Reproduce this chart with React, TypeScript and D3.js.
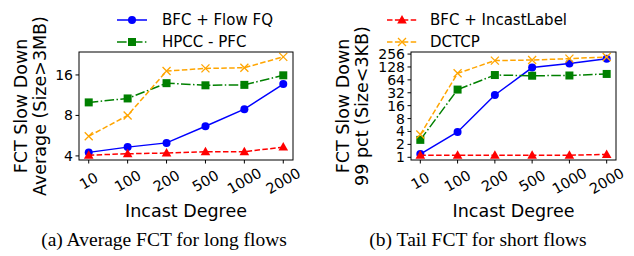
import React from "react";
import * as d3 from "d3";

const W = 634;
const H = 256;

const degrees = ["10", "100", "200", "500", "1000", "2000"];

// (a) average FCT, long flows
const avgFlowFQ = [4.25, 4.65, 5.0, 6.65, 8.9, 13.7];
const avgHPCC = [10.0, 10.7, 13.9, 13.4, 13.5, 15.9];
const avgIncast = [4.05, 4.15, 4.2, 4.3, 4.3, 4.65];
const avgDCTCP = [5.6, 8.0, 17.1, 17.9, 18.1, 21.8];

// (b) tail FCT, short flows
const tailFlowFQ = [1.19, 3.9, 28.4, 124, 154, 198];
const tailHPCC = [2.55, 38, 83, 80, 81, 88];
const tailIncast = [1.12, 1.12, 1.12, 1.12, 1.12, 1.17];
const tailDCTCP = [3.4, 91, 180, 186, 200, 219];

const leftTicks = [4, 8, 16];
const rightTicks = [1, 2, 4, 8, 16, 32, 64, 128, 256];

const sans = "DejaVu Sans, sans-serif";

type Series = { name: string; color: string; dash: string; marker: string; values: number[] };

function Marker({ type, x, y, color }: { type: string; x: number; y: number; color: string }) {
  if (type === "circle") return <circle cx={x} cy={y} r={4} fill={color} />;
  if (type === "square") return <rect x={x - 4} y={y - 4} width={8} height={8} fill={color} />;
  if (type === "triangle")
    return <path d={`M${x},${y - 5}L${x + 4.8},${y + 3.5}L${x - 4.8},${y + 3.5}Z`} fill={color} />;
  return (
    <path d={`M${x - 4},${y - 4}L${x + 4},${y + 4}M${x - 4},${y + 4}L${x + 4},${y - 4}`} stroke={color} strokeWidth={1.3} />
  );
}

function Panel(props: {
  x0: number;
  x1: number;
  yDomain: [number, number];
  ticks: number[];
  series: Series[];
  label1: string;
  label2: string;
  labelX: number;
}) {
  const top = 52;
  const bottom = 160;
  const x = d3.scaleLinear().domain([-0.25, 5.25]).range([props.x0, props.x1]);
  const y = d3.scaleLog().base(2).domain(props.yDomain).range([bottom, top]);
  const line = d3
    .line<number>()
    .x((_, i) => x(i))
    .y((d) => y(d));
  const cx = (props.x0 + props.x1) / 2;
  const cy = (top + bottom) / 2;
  return (
    <g>
      {props.series.map((s) => (
        <g key={s.name}>
          <path d={line(s.values) || ""} fill="none" stroke={s.color} strokeWidth={1.5} strokeDasharray={s.dash} />
          {s.values.map((v, i) => (
            <Marker key={i} type={s.marker} x={x(i)} y={y(v)} color={s.color} />
          ))}
        </g>
      ))}
      <rect x={props.x0} y={top} width={props.x1 - props.x0} height={bottom - top} fill="none" stroke="#000" strokeWidth={1} />
      {props.ticks.map((t) => (
        <g key={t}>
          <line x1={props.x0 - 3.5} x2={props.x0} y1={y(t)} y2={y(t)} stroke="#000" />
          <text x={props.x0 - 6} y={y(t)} textAnchor="end" dominantBaseline="central" fontSize={14} fontFamily={sans}>
            {t}
          </text>
        </g>
      ))}
      {degrees.map((d, i) => (
        <g key={d}>
          <line x1={x(i)} x2={x(i)} y1={bottom} y2={bottom + 3.5} stroke="#000" />
          <text
            transform={`translate(${x(i)},181) rotate(-30)`}
            textAnchor="middle"
            dominantBaseline="central"
            fontSize={14.5}
            fontFamily={sans}
          >
            {d}
          </text>
        </g>
      ))}
      <text x={cx} y={217} textAnchor="middle" fontSize={17.5} fontFamily={sans}>
        Incast Degree
      </text>
      <text transform={`translate(${props.labelX},${cy}) rotate(-90)`} textAnchor="middle" fontSize={17.5} fontFamily={sans}>
        {props.label1}
      </text>
      <text transform={`translate(${props.labelX + 19},${cy}) rotate(-90)`} textAnchor="middle" fontSize={17.5} fontFamily={sans}>
        {props.label2}
      </text>
    </g>
  );
}

function Legend({ items, x, textX }: { items: Series[]; x: number; textX: number }) {
  return (
    <g>
      {items.map((s, i) => {
        const yy = 20 + i * 22;
        return (
          <g key={s.name}>
            <line x1={x} x2={x + 30} y1={yy} y2={yy} stroke={s.color} strokeWidth={1.5} strokeDasharray={s.dash} />
            <Marker type={s.marker} x={x + 15} y={yy} color={s.color} />
            <text x={textX} y={yy} dominantBaseline="central" fontSize={15} fontFamily={sans}>
              {s.name}
            </text>
          </g>
        );
      })}
    </g>
  );
}

export default function App() {
  const mk = (a: number[], b: number[], c: number[], d: number[]): Series[] => [
    { name: "BFC + Flow FQ", color: "#0000ff", dash: "", marker: "circle", values: a },
    { name: "HPCC - PFC", color: "#008000", dash: "9.6,2.4,1.5,2.4", marker: "square", values: b },
    { name: "BFC + IncastLabel", color: "#ff0000", dash: "5.5,2.4", marker: "triangle", values: c },
    { name: "DCTCP", color: "#ffa500", dash: "5.5,2.4", marker: "x", values: d },
  ];
  const left = mk(avgFlowFQ, avgHPCC, avgIncast, avgDCTCP);
  const right = mk(tailFlowFQ, tailHPCC, tailIncast, tailDCTCP);
  return (
    <svg width={W} height={H} style={{ position: "absolute", left: 0, top: 0, background: "#fff" }}>
      <Legend items={left.slice(0, 2)} x={117} textX={162} />
      <Legend items={left.slice(2, 4)} x={387} textX={430} />
      <Panel x0={79} x1={293} yDomain={[3.73, 23.7]} ticks={leftTicks} series={left} label1="FCT Slow Down" label2="Average (Size>3MB)" labelX={27} />
      <Panel x0={411} x1={616} yDomain={[0.865, 286]} ticks={rightTicks} series={right} label1="FCT Slow Down" label2="99 pct (Size<3KB)" labelX={349} />
      <text x={164} y={246} textAnchor="middle" fontSize={19.5} fontFamily="Liberation Serif, Times New Roman, serif">
        (a) Average FCT for long flows
      </text>
      <text x={478} y={246} textAnchor="middle" fontSize={19.5} fontFamily="Liberation Serif, Times New Roman, serif">
        (b) Tail FCT for short flows
      </text>
    </svg>
  );
}
